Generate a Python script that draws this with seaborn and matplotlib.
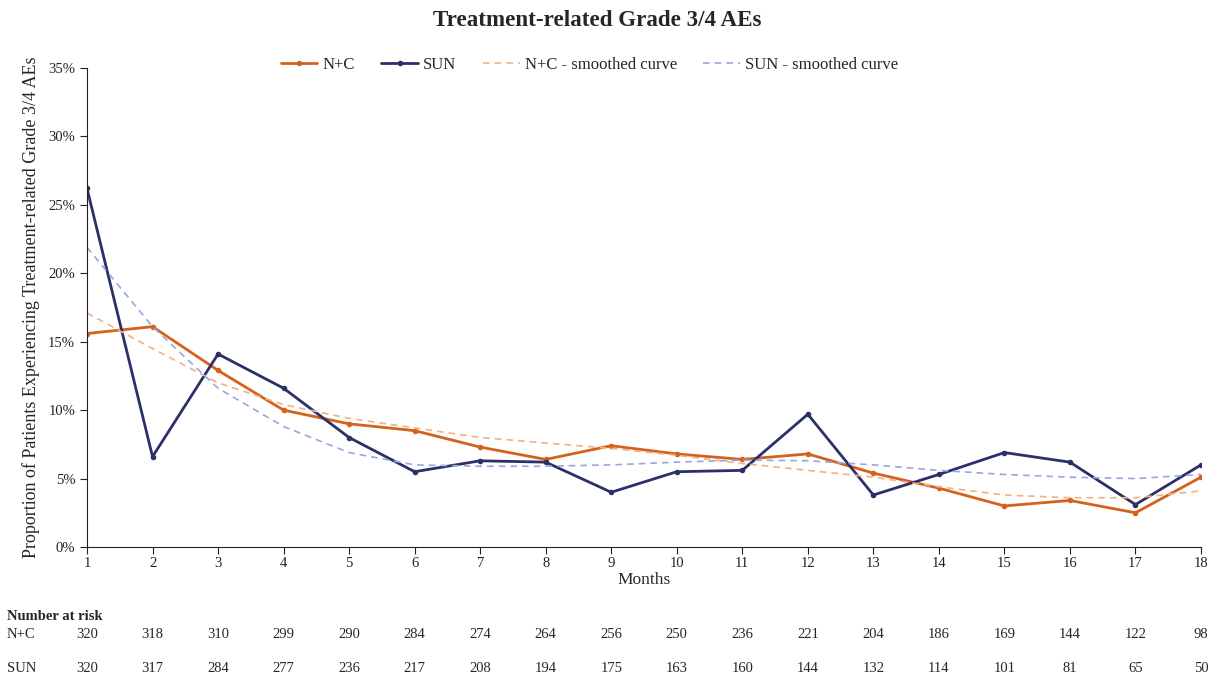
import matplotlib
matplotlib.use("Agg")
import matplotlib.pyplot as plt
import seaborn as sns
import pandas as pd
from matplotlib.ticker import PercentFormatter

months = list(range(1, 19))
nc_values = [15.6, 16.1, 12.9, 10.0, 9.0, 8.5, 7.3, 6.4, 7.4, 6.8, 6.4, 6.8, 5.4, 4.3, 3.0, 3.4, 2.5, 5.1]
sun_values = [26.2, 6.6, 14.1, 11.6, 8.0, 5.5, 6.3, 6.2, 4.0, 5.5, 5.6, 9.7, 3.8, 5.3, 6.9, 6.2, 3.1, 6.0]
nc_smooth = [17.1, 14.5, 12.0, 10.4, 9.4, 8.7, 8.0, 7.6, 7.2, 6.7, 6.1, 5.6, 5.1, 4.4, 3.8, 3.6, 3.6, 4.1]
sun_smooth = [21.9, 16.1, 11.6, 8.8, 6.9, 6.0, 5.9, 5.9, 6.0, 6.2, 6.35, 6.3, 6.0, 5.6, 5.3, 5.1, 5.0, 5.3]
risk_nc = [320, 318, 310, 299, 290, 284, 274, 264, 256, 250, 236, 221, 204, 186, 169, 144, 122, 98]
risk_sun = [320, 317, 284, 277, 236, 217, 208, 194, 175, 163, 160, 144, 132, 114, 101, 81, 65, 50]

sns.set_theme(style="white")
plt.rcParams['font.family'] = ['Liberation Serif', 'DejaVu Serif']

fig = plt.figure(figsize=(12.24, 6.8), dpi=100)
ax = fig.add_axes([87/1224, 1-547/680, (1201-87)/1224, (547-68)/680])

series = [
    ("N+C", nc_values, "#D5621C", "-", 2.0, 4),
    ("SUN", sun_values, "#2B3068", "-", 2.0, 4),
    ("N+C - smoothed curve", nc_smooth, "#F2B183", (0, (4, 3)), 1.2, 0),
    ("SUN - smoothed curve", sun_smooth, "#98A6E2", (0, (4, 3)), 1.2, 0),
]
for name, vals, col, ls, lw, ms in series:
    df = pd.DataFrame({"Month": months, "Value": vals})
    sns.lineplot(data=df, x="Month", y="Value", ax=ax, color=col, linewidth=lw,
                 linestyle=ls, marker="o" if ms else None, markersize=ms,
                 markeredgewidth=0, label=name)

ax.set_xlim(1, 18)
ax.set_ylim(0, 35)
ax.set_xticks(months)
ax.set_yticks(range(0, 36, 5))
ax.yaxis.set_major_formatter(PercentFormatter(decimals=0))
for s in ["top", "right"]:
    ax.spines[s].set_visible(False)
for s in ["left", "bottom"]:
    ax.spines[s].set_color("#222222")
    ax.spines[s].set_linewidth(0.8)
ax.tick_params(axis="both", which="major", direction="out", length=5, width=0.8,
               colors="#222222", labelsize=10.5, bottom=True, left=True)
ax.tick_params(axis="x", pad=2)
ax.set_xlabel("Months", fontsize=12.5, labelpad=2)
ax.set_ylabel("Proportion of Patients Experiencing Treatment-related Grade 3/4 AEs", fontsize=13, labelpad=6)

leg = ax.legend(loc="upper center", bbox_to_anchor=(0.451, 1.054), ncol=4, frameon=False,
                fontsize=12, handlelength=2.2, columnspacing=1.6, handletextpad=0.3)

fig.text(597/1224, 1-21/680, "Treatment-related Grade 3/4 AEs", ha="center", va="center",
         fontsize=16.6, fontweight="bold")

# Number at risk table
fig.text(7/1224, 1-617/680, "Number at risk", ha="left", va="center", fontsize=10.5, fontweight="bold")
fig.text(7/1224, 1-635/680, "N+C", ha="left", va="center", fontsize=10.5)
fig.text(7/1224, 1-668/680, "SUN", ha="left", va="center", fontsize=10.5)
trans = matplotlib.transforms.blended_transform_factory(ax.transData, fig.transFigure)
for m, a, b in zip(months, risk_nc, risk_sun):
    ax.text(m, 1-635/680, str(a), transform=trans, ha="center", va="center", fontsize=10.5, clip_on=False)
    ax.text(m, 1-668/680, str(b), transform=trans, ha="center", va="center", fontsize=10.5, clip_on=False)

fig.savefig("out.png", dpi=100, facecolor="white")
